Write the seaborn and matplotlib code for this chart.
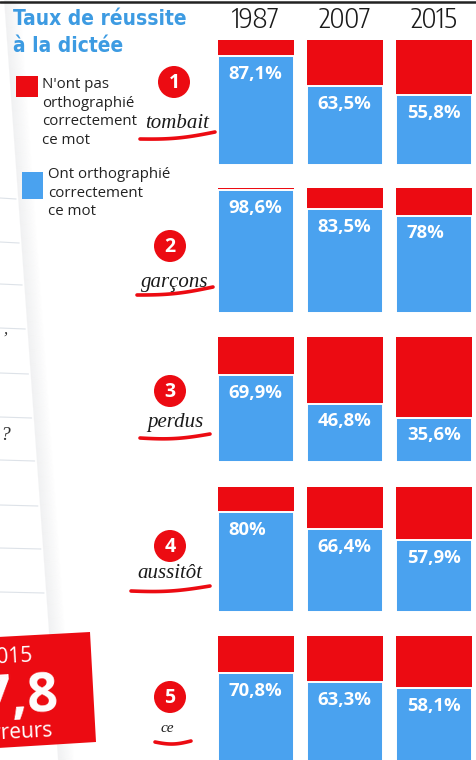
import numpy as np
import pandas as pd
import matplotlib
matplotlib.use("Agg")
import matplotlib.pyplot as plt
import seaborn as sns
from matplotlib import font_manager as fm
from matplotlib.patches import Circle, Polygon, Rectangle

# ---------------- data ----------------
years = ["1987", "2007", "2015"]
words = ["tombait", "garçons", "perdus", "aussitôt", "ce"]
numbers = ["1", "2", "3", "4", "5"]
tombait_ok = [87.1, 63.5, 55.8]
garcons_ok = [98.6, 83.5, 78.0]
perdus_ok = [69.9, 46.8, 35.6]
aussitot_ok = [80.0, 66.4, 57.9]
ce_ok = [70.8, 63.3, 58.1]
total = [100, 100, 100]
success_rows = [tombait_ok, garcons_ok, perdus_ok, aussitot_ok, ce_ok]

title = "Taux de réussite\nà la dictée"
legend_fail = "N'ont pas\northographié\ncorrectement\nce mot"
legend_ok = "Ont orthographié\ncorrectement\nce mot"

RED = "#ec0b12"
BLUE = "#4aa2ef"
TITLE_BLUE = "#3d9be2"

sns.set_theme(style="white")
plt.rcParams["font.family"] = ["Open Sans", "DejaVu Sans"]


# ---------------- font helpers ----------------
def _w(f):
    w = f.weight
    if isinstance(w, str):
        return fm.weight_dict.get(w, 400)
    return int(w)


def _narrow(f):
    st = f.stretch
    if isinstance(st, str):
        st_narrow = st in ("condensed", "semi-condensed", "extra-condensed", "ultra-condensed")
    else:
        st_narrow = st < 500
    return ("Narrow" in f.name) or ("Condensed" in f.name) or st_narrow


def pick_narrow(target_weight):
    best = None
    for f in fm.fontManager.ttflist:
        if f.style != "normal" or not _narrow(f):
            continue
        n = f.name + " " + f.fname
        if "Sans" not in f.name or "Serif" in n or "Mono" in n or "CJK" in n:
            continue
        d = abs(_w(f) - target_weight)
        if best is None or d < best[0]:
            best = (d, f.fname)
    return best[1] if best else None


bold_narrow = pick_narrow(700)
light_narrow = pick_narrow(300)
if bold_narrow:
    title_fp = fm.FontProperties(fname=bold_narrow, size=15)
else:
    title_fp = fm.FontProperties(family="Open Sans", weight="bold", size=14.5)
if light_narrow:
    year_fp = fm.FontProperties(fname=light_narrow, size=20)
else:
    year_fp = fm.FontProperties(family=["Roboto", "DejaVu Sans"], weight="light", size=18)

W, H = 477, 760
fig = plt.figure(figsize=(W / 100, H / 100), dpi=100)
fig.patch.set_facecolor("white")

# ---------------- background decoration axes (pixel coords) ----------------
bg = fig.add_axes([0, 0, 1, 1], zorder=0)
bg.set_xlim(0, W)
bg.set_ylim(H, 0)
bg.axis("off")

# top rule
bg.plot([0, W], [2, 2], color="#222222", lw=1.8)


# notebook page edge & shadow
def edge_x(y):
    return 4 + y * (54.0 / 760.0)


ys = np.array([0, H])
for k in range(16):
    a = 0.10 * (1 - k / 16)
    xs0 = edge_x(ys) + k
    poly = Polygon([[xs0[0], 0], [xs0[0] + 1.2, 0], [xs0[1] + 1.2, H], [xs0[1], H]],
                   closed=True, facecolor="#8a9099", edgecolor="none", alpha=a)
    bg.add_patch(poly)
# page ruled lines
for yl in [198, 242, 284, 328, 373, 417, 460, 505, 548, 592]:
    bg.plot([0, edge_x(yl) - 2], [yl, yl + 1], color="#dde2e8", lw=0.8)
bg.text(6, 330, ",", fontsize=12, family="Liberation Serif", style="italic", ha="center",
        va="center", color="#333")
bg.text(5, 436, "?", fontsize=14, family="Liberation Serif", style="italic", ha="center",
        va="center", color="#333")

# title
bg.text(13, 9, title, fontproperties=title_fp, color=TITLE_BLUE,
        ha="left", va="top", linespacing=1.45)

# legend
bg.add_patch(Rectangle((16, 76), 22, 21, facecolor=RED, edgecolor="none"))
bg.text(42, 77, legend_fail, fontsize=10.8, color="#222222", ha="left", va="top", linespacing=1.32)
bg.add_patch(Rectangle((22, 172), 21, 27, facecolor=BLUE, edgecolor="none"))
bg.text(48, 167, legend_ok, fontsize=10.8, color="#222222", ha="left", va="top", linespacing=1.32)

# numbered circles and handwritten words
circle_xy = [(174, 82), (170, 246), (170, 391), (170, 546), (170, 697)]
word_xy = [(177, 124), (175, 282), (175, 423), (170, 573), (167, 729)]
underline = [((140, 139), (215, 132)), ((137, 295), (213, 287)), ((140, 438), (210, 434)),
             ((131, 591), (210, 586)), ((155, 742), (191, 741))]
for (cx, cy), num, (wx, wy), word, ((x0, y0), (x1, y1)) in zip(circle_xy, numbers, word_xy, words, underline):
    bg.add_patch(Circle((cx, cy), 16, facecolor=RED, edgecolor="none"))
    bg.text(cx, cy + 1, num, fontsize=14, fontweight="bold", color="white", ha="center", va="center")
    bg.text(wx, wy, word, fontsize=15 if word != "ce" else 11, family="Liberation Serif", style="italic",
            color="#1a1a1a", ha="center", va="center")
    t = np.linspace(0, 1, 30)
    bx = x0 + (x1 - x0) * t
    by = y0 + (y1 - y0) * t + 2.5 * np.sin(np.pi * t)
    bg.plot(bx, by, color=RED, lw=2.6, solid_capstyle="round")

# red box bottom-left
box = Polygon([[-2, 637], [90, 632], [96, 742], [-2, 748]], closed=True, facecolor=RED, edgecolor="none")
bg.add_patch(box)
bg.text(-16, 657, "2015", fontsize=15, color="white", ha="left", va="center", rotation=3)
bg.text(60, 699, "17,8", fontsize=39, fontweight="bold", color="white", ha="right", va="center", rotation=3)
bg.text(54, 733, "erreurs", fontsize=15, color="white", ha="right", va="center", rotation=3)

# ---------------- bar panels ----------------
row_tops = [40, 188, 337, 487, 636]
panel_h = 125
bar_w = 0.85
x_left_px, x_right_px = 218, 472

for i, (top, vals) in enumerate(zip(row_tops, success_rows)):
    bottom_frac = 1 - (top + panel_h) / H
    ax = fig.add_axes([x_left_px / W, bottom_frac, (x_right_px - x_left_px) / W, panel_h / H], zorder=2)
    ax.patch.set_visible(False)
    df = pd.DataFrame({"year": years, "ok": vals, "total": total})
    sns.barplot(data=df, x="year", y="total", color=RED, saturation=1, width=bar_w,
                edgecolor="none", ax=ax)
    sns.barplot(data=df, x="year", y="ok", color=BLUE, saturation=1, width=bar_w,
                edgecolor="white", linewidth=1.4, ax=ax)
    ax.set_xlim(-bar_w / 2, len(years) - 1 + bar_w / 2)
    ax.set_ylim(0, 100)
    ax.set_xlabel("")
    ax.set_ylabel("")
    ax.set_yticks([])
    for s in ax.spines.values():
        s.set_visible(False)
    for j, v in enumerate(vals):
        lab = (f"{v:.0f}" if float(v).is_integer() else f"{v:.1f}".replace(".", ",")) + "%"
        ax.annotate(lab, xy=(j - bar_w / 2 + 0.12, v), xytext=(0, -18), textcoords="offset pixels",
                    ha="left", va="center", color="white", fontsize=13.3, fontweight="bold")
    if i == 0:
        ax.xaxis.tick_top()
        ax.tick_params(axis="x", length=0, pad=4)
        for lbl in ax.get_xticklabels():
            lbl.set_fontproperties(year_fp)
            lbl.set_color("#1a1a1a")
    else:
        ax.set_xticks([])

fig.savefig("out.png", dpi=100, facecolor="white")
